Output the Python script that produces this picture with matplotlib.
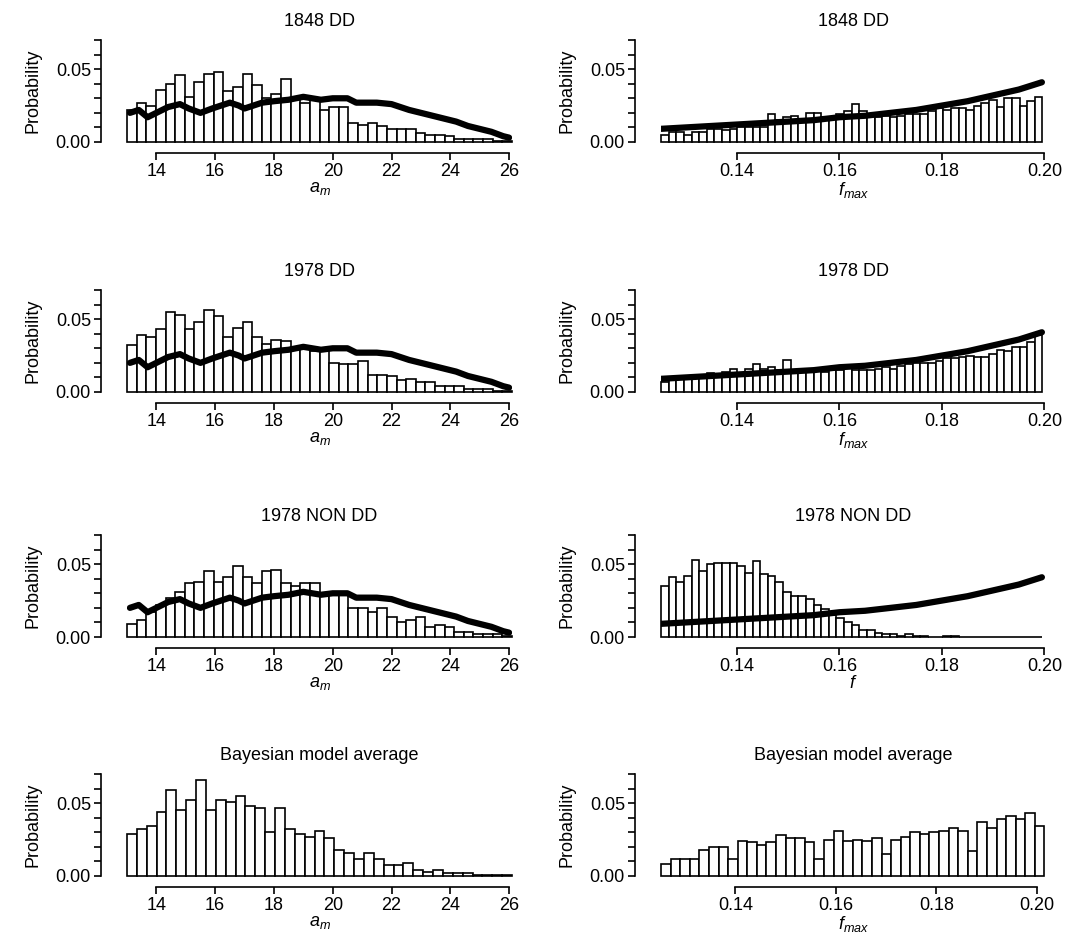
import numpy as np
import matplotlib
matplotlib.use("Agg")
import matplotlib.pyplot as plt

plt.rcParams['font.family'] = ['Liberation Sans', 'DejaVu Sans']
plt.rcParams['mathtext.fontset'] = 'custom'
plt.rcParams['mathtext.it'] = 'Liberation Sans:italic'
plt.rcParams['mathtext.rm'] = 'Liberation Sans'

# ---- data ----
am_range = (13.0, 26.1)
f_range = (0.1252, 0.1996)
f_range_bma = (0.1252, 0.2015)

am_1848 = [0.022,0.027,0.025,0.036,0.040,0.046,0.031,0.041,0.047,0.048,0.035,0.038,0.047,0.039,0.030,
           0.033,0.043,0.030,0.027,0.030,0.022,0.024,0.024,0.013,0.012,0.013,0.011,0.009,0.009,0.009,
           0.006,0.005,0.005,0.004,0.002,0.002,0.002,0.002,0.001,0.001]
am_1978 = [0.032,0.039,0.038,0.043,0.055,0.053,0.043,0.048,0.056,0.052,0.038,0.044,0.048,0.038,0.033,
           0.036,0.035,0.031,0.031,0.028,0.029,0.020,0.019,0.019,0.021,0.012,0.012,0.011,0.008,0.009,
           0.007,0.007,0.004,0.004,0.004,0.002,0.002,0.002,0.001,0.001]
am_non = [0.009,0.012,0.017,0.022,0.027,0.031,0.037,0.038,0.045,0.038,0.041,0.049,0.041,0.037,0.045,
          0.046,0.037,0.035,0.037,0.037,0.029,0.029,0.029,0.020,0.020,0.017,0.020,0.014,0.010,0.012,
          0.014,0.007,0.008,0.007,0.0035,0.0035,0.002,0.002,0.002,0.001]
am_bma = [0.029,0.032,0.034,0.044,0.059,0.045,0.052,0.066,0.045,0.052,0.051,0.055,0.048,0.047,0.030,
          0.047,0.032,0.029,0.027,0.031,0.026,0.018,0.016,0.012,0.016,0.012,0.0075,0.0075,0.0088,0.004,
          0.003,0.004,0.002,0.002,0.002,0.001,0.001,0.001,0.001]

f_1848 = [0.005,0.007,0.007,0.005,0.007,0.007,0.009,0.009,0.008,0.009,0.010,0.010,0.010,0.010,0.019,
          0.015,0.017,0.018,0.015,0.020,0.020,0.017,0.016,0.019,0.021,0.026,0.021,0.018,0.017,0.018,
          0.017,0.018,0.019,0.019,0.019,0.021,0.023,0.022,0.023,0.023,0.022,0.025,0.027,0.029,0.024,
          0.030,0.030,0.025,0.028,0.031]
f_1978 = [0.007,0.009,0.009,0.010,0.010,0.012,0.013,0.012,0.014,0.016,0.013,0.016,0.019,0.016,0.017,
          0.015,0.022,0.015,0.016,0.015,0.016,0.014,0.015,0.015,0.018,0.015,0.015,0.015,0.016,0.017,
          0.016,0.018,0.019,0.020,0.020,0.020,0.021,0.023,0.023,0.024,0.025,0.024,0.024,0.026,0.029,
          0.028,0.031,0.031,0.034,0.039]
f_non = [0.035,0.041,0.038,0.042,0.053,0.045,0.050,0.051,0.051,0.051,0.049,0.044,0.052,0.043,0.042,
         0.038,0.031,0.028,0.028,0.026,0.022,0.019,0.015,0.013,0.010,0.008,0.005,0.005,0.003,0.002,
         0.002,0.001,0.002,0.001,0.001,0.0,0.0,0.001,0.001,0.0,0.0,0.0,0.0,0.0,0.0,0.0,0.0,0.0,0.0,0.0]
f_bma = [0.008,0.012,0.012,0.012,0.018,0.020,0.020,0.012,0.024,0.023,0.021,0.023,0.028,0.026,0.026,
         0.023,0.012,0.025,0.031,0.024,0.025,0.024,0.026,0.015,0.025,0.027,0.030,0.029,0.030,0.031,
         0.033,0.031,0.017,0.037,0.033,0.039,0.041,0.039,0.043,0.034]

prior_am_x = [13.1,13.4,13.7,14.0,14.4,14.8,15.1,15.5,15.9,16.2,16.5,16.8,17.0,17.3,17.6,18.0,18.5,
              19.0,19.3,19.6,20.0,20.5,20.8,21.1,21.5,22.0,22.3,22.6,23.0,23.4,23.8,24.2,24.6,25.0,
              25.4,25.8,26.0]
prior_am_y = [0.020,0.022,0.017,0.020,0.024,0.026,0.023,0.020,0.023,0.025,0.027,0.025,0.023,0.025,
              0.027,0.028,0.029,0.031,0.030,0.029,0.030,0.030,0.027,0.027,0.027,0.026,0.024,0.022,
              0.020,0.018,0.016,0.014,0.011,0.009,0.007,0.004,0.003]
prior_f_x = [0.125,0.130,0.135,0.140,0.145,0.150,0.155,0.160,0.165,0.170,0.175,0.180,0.185,0.190,0.195,0.1995]
prior_f_y = [0.009,0.010,0.011,0.012,0.013,0.014,0.015,0.017,0.018,0.020,0.022,0.025,0.028,0.032,0.036,0.041]

titles = ["1848 DD", "1978 DD", "1978 NON DD", "Bayesian model average"]
am_sets = [am_1848, am_1978, am_non, am_bma]
f_sets = [f_1848, f_1978, f_non, f_bma]
f_xlabels = [r"$\mathit{f}_{max}$", r"$\mathit{f}_{max}$", r"$\mathit{f}$", r"$\mathit{f}_{max}$"]

W, H = 1068, 951
fig = plt.figure(figsize=(W/100, H/100), dpi=100)
bottoms = [142, 392, 637, 876]
ph = 102

def style(ax, xb, xt, xtl):
    for s in ['top', 'right']:
        ax.spines[s].set_visible(False)
    ax.spines['left'].set_position(('outward', 19))
    ax.spines['bottom'].set_position(('outward', 8))
    ax.spines['left'].set_bounds(0, 0.07)
    ax.spines['bottom'].set_bounds(*xb)
    ax.set_ylim(0, 0.07)
    ax.set_yticks(np.arange(0, 0.0701, 0.01))
    ax.set_yticklabels(["0.00", "", "", "", "", "0.05", "", ""])
    ax.set_xticks(xt)
    ax.set_xticklabels(xtl)
    ax.tick_params(labelsize=13, length=5, width=1.2, pad=2)
    for s in ax.spines.values():
        s.set_linewidth(1.2)
    ax.set_ylabel("Probability", fontsize=13, labelpad=10)

for i in range(4):
    b = bottoms[i]
    axl = fig.add_axes([127/W, 1 - b/H, 385/W, ph/H])
    vals = am_sets[i]
    edges = np.linspace(am_range[0], am_range[1], len(vals) + 1)
    axl.bar(edges[:-1], vals, width=np.diff(edges), align='edge', color='white',
            edgecolor='black', linewidth=1.2, clip_on=False)
    if i < 3:
        axl.plot(prior_am_x, prior_am_y, color='black', lw=4.5, solid_capstyle='round')
    axl.set_xlim(am_range)
    style(axl, (14, 26), np.arange(14, 27, 2), [str(v) for v in range(14, 27, 2)])
    axl.set_title(titles[i], fontsize=13, pad=10)
    axl.set_xlabel(r"$\mathit{a}_m$", fontsize=13, labelpad=0)

    axr = fig.add_axes([661/W, 1 - b/H, 385/W, ph/H])
    vals = f_sets[i]
    fr = f_range_bma if i == 3 else f_range
    edges = np.linspace(fr[0], fr[1], len(vals) + 1)
    axr.bar(edges[:-1], vals, width=np.diff(edges), align='edge', color='white',
            edgecolor='black', linewidth=1.2, clip_on=False)
    if i < 3:
        axr.plot(prior_f_x, prior_f_y, color='black', lw=4.5, solid_capstyle='round')
    axr.set_xlim(0.1252, 0.2003 if i < 3 else 0.2018)
    style(axr, (0.14, 0.20), [0.14, 0.16, 0.18, 0.20], ["0.14", "0.16", "0.18", "0.20"])
    axr.set_title(titles[i], fontsize=13, pad=10)
    axr.set_xlabel(f_xlabels[i], fontsize=13, labelpad=0)

fig.savefig("out.png", dpi=100)
